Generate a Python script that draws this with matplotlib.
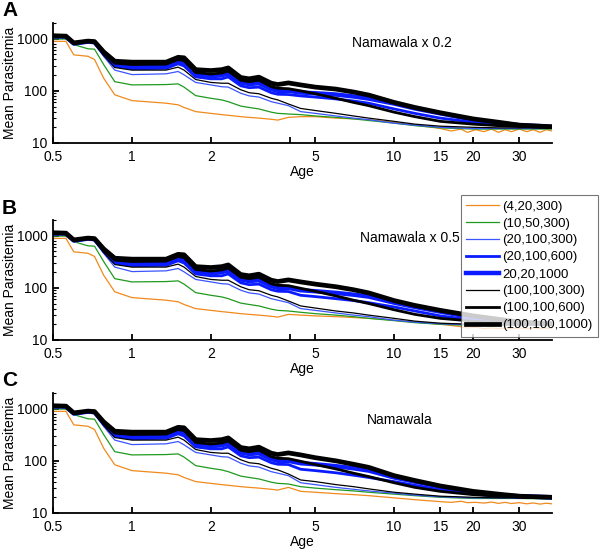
import numpy as np
import matplotlib
matplotlib.use("Agg")
import matplotlib.pyplot as plt
from matplotlib.ticker import FixedLocator, LogLocator, NullFormatter

plt.rcParams['font.family'] = ['Liberation Sans', 'DejaVu Sans']

# series labels, in legend order
labels = ['(4,20,300)', '(10,50,300)', '(20,100,300)', '(20,100,600)', '20,20,1000',
          '(100,100,300)', '(100,100,600)', '(100,100,1000)']
colors = ['#f08a1c', '#1f9a1f', '#3a55ff', '#0a1cff', '#0a1cff', 'black', 'black', 'black']
widths = [0.9, 0.9, 0.9, 2.0, 3.2, 0.9, 2.0, 3.4]

# early ages (shared by the three panels)
ages_early = [0.5, 0.56, 0.6, 0.68, 0.72, 0.78, 0.86, 1.0, 1.35, 1.5, 1.58, 1.75,
              2.0, 2.2, 2.33, 2.6, 2.8, 3.05, 3.4, 3.6, 3.95]
orange_early = [890, 890, 490, 460, 400, 175, 84, 65, 58, 54, 48, 40, 37, 35, 34, 32, 31, 30, 28.5, 27.5, 31]
green_early = [990, 980, 770, 640, 630, 320, 150, 130, 132, 136, 118, 81, 72, 67, 62, 51, 48, 45, 39, 37, 36]
bthin_early = [1080, 1070, 780, 830, 800, 460, 250, 205, 212, 235, 203, 145, 130, 120, 118, 90, 80, 76, 62, 58, 52]
bmed_early = [1100, 1090, 800, 860, 840, 500, 300, 265, 270, 330, 300, 185, 170, 170, 185, 125, 115, 118, 92, 86, 85]
bthick_early = [1110, 1100, 810, 880, 860, 530, 320, 300, 300, 370, 350, 205, 190, 200, 215, 145, 135, 140, 108, 100, 100]
kthin_early = [1100, 1090, 800, 850, 820, 480, 280, 250, 250, 285, 250, 165, 145, 140, 140, 105, 92, 88, 72, 67, 56]
kmed_early = [1120, 1110, 820, 890, 870, 540, 340, 320, 325, 400, 380, 225, 210, 220, 240, 160, 150, 160, 120, 112, 110]
kthick_early = [1140, 1120, 830, 900, 880, 560, 370, 355, 355, 440, 430, 255, 245, 255, 275, 180, 170, 183, 140, 132, 142]
early = [orange_early, green_early, bthin_early, bmed_early, bthick_early,
         kthin_early, kmed_early, kthick_early]

# orange is noisy at old ages, so it gets its own, denser age list
ages_orange_late = [4.4, 5, 6, 7, 8, 10, 12, 15, 16.5, 18, 19, 20.5, 22, 23.5, 25, 26.5,
                    28, 30, 32, 34, 36, 38, 40]
orange_A = [32, 32, 30, 29, 28, 25, 22, 19, 17, 18.5, 16, 18, 16.5, 18.5, 16, 18, 16.5,
            18.5, 16.5, 18, 16, 18, 17]
orange_B = [30, 29, 28, 27, 26, 24, 22, 20, 19, 18, 17, 17.5, 16.5, 17, 16.5, 17, 16.5,
            17, 16.5, 17, 16.5, 17, 16.5]
orange_C = [26, 25, 23.5, 22.5, 21.5, 19.5, 18, 16.5, 16, 16.8, 15.8, 16, 15.5, 16.2, 15.3,
            16, 15.2, 15.8, 15, 15.6, 14.8, 15.4, 15]

# later ages for the other seven series, per panel (legend order without orange)
ages_late = [4.4, 5, 6, 7, 8, 10, 12, 15, 20, 25, 30, 40]
late_A = [
    [35, 33, 31, 29, 27, 24, 21.5, 19.5, 18.5, 18.5, 18.5, 18.5],
    [40, 37, 33, 30, 28, 24, 22, 20, 19, 19, 19, 19],
    [80, 76, 70, 64, 58, 45, 37, 30, 25, 22, 21, 20],
    [93, 90, 85, 78, 71, 57, 46, 37, 28, 24, 22, 20.5],
    [46, 42, 37, 33, 30, 26, 23, 21, 20, 19.5, 19.5, 19.5],
    [100, 88, 72, 60, 52, 39, 32, 26, 23, 21.5, 21, 20],
    [130, 118, 108, 95, 83, 60, 48, 38, 29, 25, 22, 20.5],
]
late_B = [
    [34, 32, 30, 28, 26, 23.5, 21.5, 20, 19, 19, 19, 19],
    [40, 37, 33, 30, 28, 24, 22, 20.5, 19.5, 19.5, 19.5, 19.5],
    [72, 68, 62, 57, 52, 43, 36, 29, 24, 21.5, 20.5, 20],
    [90, 86, 80, 74, 68, 52, 43, 35, 27, 23.5, 21.5, 20.5],
    [45, 41, 36, 33, 30, 26, 23, 21, 20, 19.5, 19.5, 19.5],
    [98, 86, 70, 58, 50, 38, 31, 26, 23, 21.5, 21, 20],
    [130, 118, 105, 92, 80, 57, 46, 37, 29, 25, 22, 20.5],
]
late_C = [
    [32, 30, 28, 26.5, 25, 23, 21.5, 20, 19, 19, 19, 18.5],
    [38, 35, 31, 28.5, 26.5, 24, 22, 20.5, 19.5, 19.5, 19.5, 19.5],
    [69, 65, 59, 53, 48, 40, 34, 28, 23, 21, 20, 19.5],
    [90, 86, 79, 72, 65, 48, 40, 32, 25, 22, 21, 20],
    [43, 40, 35, 32, 29, 25, 23, 21, 20, 19.5, 19.5, 19.5],
    [98, 85, 70, 58, 50, 38, 31, 26, 22.5, 21, 20.5, 20],
    [130, 115, 100, 86, 75, 52, 42, 33, 26, 23, 21, 20],
]

panel_letters = ['A', 'B', 'C']
panel_notes = ['Namawala x 0.2', 'Namawala x 0.5', 'Namawala']
note_pos = [(402, 43), (410, 238), (400, 420)]
panel_late = [late_A, late_B, late_C]
panel_orange = [orange_A, orange_B, orange_C]

xticks = [0.5, 1, 2, 4, 5, 10, 15, 20, 30]
xticklabels = ['0.5', '1', '2', '', '5', '10', '15', '20', '30']

W, H = 600, 549
fig = plt.figure(figsize=(6, 5.49), dpi=100)

# axes boxes in pixels: (left, top, right, bottom)
boxes = [(53, 23, 552, 143), (53, 220, 552, 340), (53, 393, 552, 513)]

handles = []
for p in range(3):
    l, t, r, b = boxes[p]
    ax = fig.add_axes([l / W, 1 - b / H, (r - l) / W, (b - t) / H])
    for i in range(8):
        if i == 0:
            x = ages_early + ages_orange_late
            y = early[i] + panel_orange[p]
        else:
            x = ages_early + ages_late
            y = early[i] + panel_late[p][i - 1]
        ln, = ax.plot(x, y, color=colors[i], lw=widths[i], label=labels[i],
                      solid_joinstyle='round')
        if p == 0:
            handles.append(ln)
    ax.set_xscale('log')
    ax.set_yscale('log')
    ax.set_xlim(0.5, 40)
    ax.set_ylim(10, 2000)
    ax.spines['top'].set_visible(False)
    ax.spines['right'].set_visible(False)
    ax.spines['left'].set_linewidth(1.3)
    ax.spines['bottom'].set_linewidth(1.3)
    ax.xaxis.set_major_locator(FixedLocator(xticks))
    ax.set_xticklabels(xticklabels)
    ax.xaxis.set_minor_locator(FixedLocator([]))
    ax.yaxis.set_major_locator(FixedLocator([10, 100, 1000]))
    ax.set_yticklabels(['10', '100', '1000'])
    ax.yaxis.set_minor_locator(LogLocator(base=10, subs=np.arange(2, 10)))
    ax.yaxis.set_minor_formatter(NullFormatter())
    ax.tick_params(which='major', direction='in', length=4, width=1.3, labelsize=10)
    ax.tick_params(axis='x', which='major', pad=5)
    ax.tick_params(axis='y', which='major', pad=4)
    ax.tick_params(which='minor', direction='in', length=2, width=0.8)
    ax.set_xlabel('Age', fontsize=10, labelpad=1)
    ax.set_ylabel('Mean Parasitemia', fontsize=10)
    ax.yaxis.set_label_coords(-0.072, 0.5)
    fig.text(2 / W, 1 - (t - 12) / H, panel_letters[p], fontsize=15, fontweight='bold',
             va='center', ha='left')
    nx, ny = note_pos[p]
    fig.text(nx / W, 1 - ny / H, panel_notes[p], fontsize=10, ha='center', va='center')

leg = fig.legend(handles=handles, loc='upper left', bbox_to_anchor=(461 / W, 1 - 195 / H),
                 fontsize=9.5, frameon=True, fancybox=False, handlelength=2.5,
                 borderaxespad=0, labelspacing=0.36, handletextpad=0.25, borderpad=0.4)
leg.get_frame().set_edgecolor('#555555')
leg.get_frame().set_linewidth(0.8)

fig.savefig('out.png', dpi=100)
